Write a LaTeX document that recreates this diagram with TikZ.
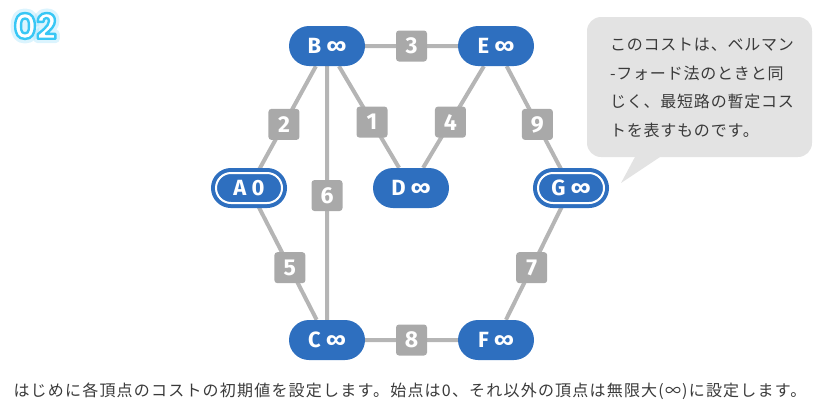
\documentclass[tikz,border=0pt]{standalone}
\usepackage{fontspec}
\setmainfont{Fira Sans}
\newfontfamily\jpfont[LetterSpace=5]{Noto Sans CJK JP}
\newfontfamily\jpwide[LetterSpace=7.5]{Noto Sans CJK JP}
\newfontfamily\stepfont{Poppins}
\usetikzlibrary{shapes.misc,backgrounds}

\definecolor{vblue}{HTML}{2E6FBF}
\definecolor{egray}{HTML}{B5B5B5}
\definecolor{wgray}{HTML}{A9A9A9}
\definecolor{bubble}{HTML}{E3E3E3}
\definecolor{glow}{HTML}{38C6F4}
\definecolor{ink}{HTML}{3A3A3A}

% outlined text for the step number
\newcommand{\strokedtext}[3]{\special{pdf:literal direct #1 Tr #2 w 1 j #3 RG}}
\newcommand{\plaintext}{\special{pdf:literal direct 0 Tr}}

\begin{document}
\begin{tikzpicture}[x=1pt, y=-1pt,
	vertex/.style={rounded rectangle, fill=vblue, text=white, minimum width=76pt, minimum height=40pt, inner sep=0pt, font=\bfseries\fontsize{22}{22}\selectfont},
	source/.style={vertex, minimum width=66pt, minimum height=30pt, draw=white, line width=2pt, preaction={draw=vblue, line width=10pt}},
	edge/.style={egray, line width=4pt},
	weight/.style={fill=wgray, text=white, rounded corners=3pt, minimum size=31pt, inner sep=0pt, font=\bfseries\fontsize{23}{23}\selectfont},
	stepnum/.style={text=white, font=\stepfont\bfseries\fontsize{35}{35}\selectfont}]
	\useasboundingbox (0,0) rectangle (826,413);

	% step number
	\node[stepnum, opacity=.35] (halo) at (35,26) {\strokedtext{1}{9}{0.60 0.88 0.99}02\plaintext};
	\node[stepnum] (num) at (35,26) {\strokedtext{2}{2.4}{0.22 0.78 0.96}02\plaintext};

	% vertices
	\node[vertex] (B) at (327,46) {B ∞};
	\node[vertex] (E) at (496,46) {E ∞};
	\node[source] (A) at (249,188) {A 0};
	\node[vertex] (D) at (411,188) {D ∞};
	\node[source] (G) at (571,188) {G ∞};
	\node[vertex] (C) at (327,340) {C ∞};
	\node[vertex] (F) at (496,340) {F ∞};

	% edges
	\begin{scope}[on background layer]
		\draw[edge] (B) -- node[weight] (w3) {3} (E);
		\draw[edge] (B) -- node[weight, pos=.55] (w2) {2} (A);
		\draw[edge] (B) -- node[weight, pos=.55] (w1) {1} (D);
		\draw[edge] (B) -- node[weight, pos=.51] (w6) {6} (C);
		\draw[edge] (E) -- node[weight, pos=.55] (w4) {4} (D);
		\draw[edge] (E) -- node[weight, pos=.55] (w9) {9} (G);
		\draw[edge] (A) -- node[weight, pos=.55] (w5) {5} (C);
		\draw[edge] (G) -- node[weight, pos=.55] (w7) {7} (F);
		\draw[edge] (C) -- node[weight] (w8) {8} (F);
	\end{scope}

	% speech bubble
	\fill[bubble, rounded corners=14pt] (587,17) rectangle (812,157);
	\fill[bubble] (636,155) -- (621,183) -- (663,155) -- cycle;
	\node[text=ink, align=left, font=\jpfont\fontsize{16}{28.5}\selectfont] (note) at (702,88)
		{このコストは、ベルマン\\-フォード法のときと同\\じく、最短路の暫定コス\\トを表すものです。};

	\node[anchor=west, text=ink, font=\jpwide\fontsize{16}{16}\selectfont] (caption) at (10,391)
		{はじめに各頂点のコストの初期値を設定します。始点は0、それ以外の頂点は無限大(∞)に設定します。};
\end{tikzpicture}
\end{document}
